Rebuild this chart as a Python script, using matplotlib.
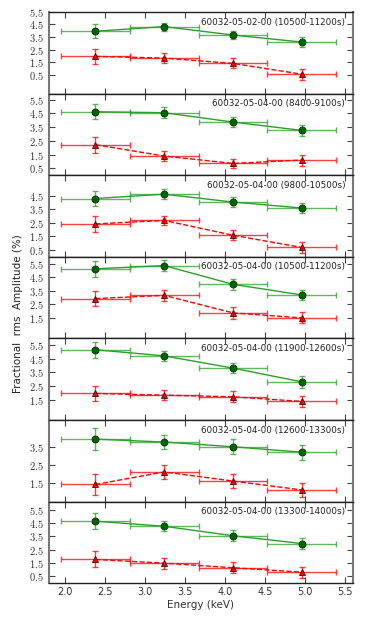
import numpy as np
import matplotlib.pyplot as plt

plt.rcParams['mathtext.fontset'] = 'cm'

# energy bins (keV)
energy = [2.38, 3.24, 4.10, 4.96]
e_half = [0.43, 0.43, 0.43, 0.43]

labels = ['60032-05-02-00 (10500-11200s)',
          '60032-05-04-00 (8400-9100s)',
          '60032-05-04-00 (9800-10500s)',
          '60032-05-04-00 (10500-11200s)',
          '60032-05-04-00 (11900-12600s)',
          '60032-05-04-00 (12600-13300s)',
          '60032-05-04-00 (13300-14000s)']

# green (circles, solid)
green_val = [[3.96, 4.33, 3.66, 3.10],
             [4.62, 4.55, 3.87, 3.26],
             [4.28, 4.60, 4.02, 3.58],
             [5.11, 5.35, 3.97, 3.19],
             [5.16, 4.71, 3.81, 2.80],
             [3.94, 3.78, 3.52, 3.22],
             [4.63, 4.25, 3.54, 2.96]]
green_err = [[0.55, 0.32, 0.33, 0.40],
             [0.55, 0.42, 0.38, 0.38],
             [0.58, 0.36, 0.38, 0.39],
             [0.57, 0.38, 0.39, 0.39],
             [0.59, 0.37, 0.39, 0.42],
             [0.59, 0.41, 0.41, 0.41],
             [0.60, 0.37, 0.41, 0.40]]

# red (triangles, dashed)
red_val = [[1.96, 1.82, 1.40, 0.54],
           [2.22, 1.39, 0.85, 1.10],
           [2.41, 2.67, 1.58, 0.68],
           [2.92, 3.16, 1.87, 1.50],
           [1.95, 1.82, 1.70, 1.36],
           [1.44, 2.13, 1.63, 1.14],
           [1.77, 1.49, 1.15, 0.82]]
red_err = [[0.58, 0.40, 0.40, 0.44],
           [0.58, 0.36, 0.35, 0.40],
           [0.56, 0.35, 0.38, 0.39],
           [0.55, 0.39, 0.42, 0.41],
           [0.56, 0.37, 0.39, 0.39],
           [0.57, 0.37, 0.40, 0.40],
           [0.60, 0.40, 0.42, 0.42]]

ylims = [(-1.0, 5.5), (0.0, 5.95), (0.0, 6.0), (0.0, 6.0),
         (0.0, 6.0), (0.5, 5.0), (0.0, 6.1)]
yticks = [[0.5, 1.5, 2.5, 3.5, 4.5, 5.5],
          [0.5, 1.5, 2.5, 3.5, 4.5, 5.5],
          [0.5, 1.5, 2.5, 3.5, 4.5],
          [1.5, 2.5, 3.5, 4.5, 5.5],
          [1.5, 2.5, 3.5, 4.5, 5.5],
          [1.5, 2.5, 3.5],
          [0.5, 1.5, 2.5, 3.5, 4.5, 5.5]]

fig, axes = plt.subplots(7, 1, figsize=(3.92, 6.27), dpi=100, sharex=True)
fig.subplots_adjust(left=0.125, right=0.9, top=0.981, bottom=0.07, hspace=0)

for i, ax in enumerate(axes):
    # error bars
    ax.errorbar(energy, green_val[i], xerr=e_half, yerr=green_err[i], fmt='none',
                ecolor='#2ca02c', elinewidth=1, capsize=2.5, capthick=1, alpha=0.75)
    ax.errorbar(energy, red_val[i], xerr=e_half, yerr=red_err[i], fmt='none',
                ecolor='red', elinewidth=1, capsize=2.5, capthick=1, alpha=0.75)
    # connecting lines + markers
    ax.plot(energy, green_val[i], '-', color='#2ca02c', lw=1)
    ax.plot(energy, red_val[i], '--', color='red', lw=1)
    ax.plot(energy, green_val[i], 'o', ms=5, mfc='#006400', mec='#003300', mew=0.6)
    ax.plot(energy, red_val[i], '^', ms=5, mfc='red', mec='#550000', mew=0.6)

    ax.text(0.975, 0.875, labels[i], transform=ax.transAxes, ha='right',
            va='center', fontsize=6.3, color='#222222')

    ax.set_xlim(1.8, 5.6)
    ax.set_ylim(*ylims[i])
    ax.set_yticks(yticks[i])
    ax.set_yticklabels([r'$%.1f$' % t for t in yticks[i]], fontsize=7.5, color='#333333')
    ax.set_xticks([2.0, 2.5, 3.0, 3.5, 4.0, 4.5, 5.0, 5.5])
    ax.tick_params(direction='in', top=True, right=True, length=4, width=0.8,
                   colors='#444444', labelcolor='#333333')
    for s in ['left', 'right']:
        ax.spines[s].set_color('#777777')
        ax.spines[s].set_linewidth(1.5)
    for s in ['top', 'bottom']:
        ax.spines[s].set_color('#222222')
        ax.spines[s].set_linewidth(1.0)

axes[-1].set_xticklabels(['2.0', '2.5', '3.0', '3.5', '4.0', '4.5', '5.0', '5.5'], fontsize=7)
axes[-1].tick_params(axis='x', labelcolor='#333333', pad=3)
axes[-1].set_xlabel('Energy (keV)', fontsize=7.5, color='#333333', labelpad=2)
fig.text(0.045, 0.5, 'Fractional  rms  Amplitude (%)', rotation=90, ha='center',
         va='center', fontsize=7.5, color='#222222')

fig.savefig('out.png', dpi=100)
